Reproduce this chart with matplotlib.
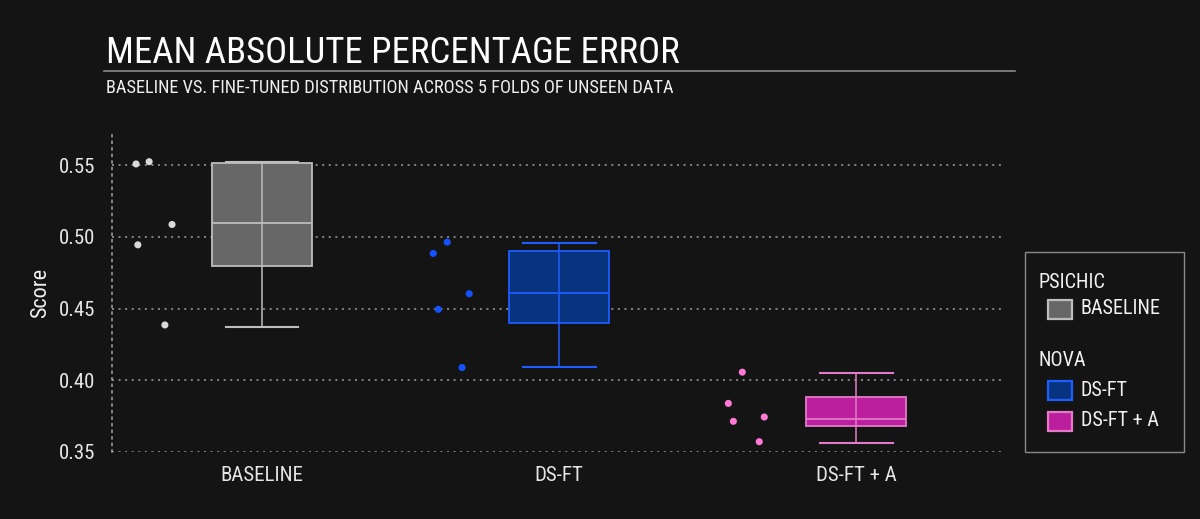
import matplotlib
matplotlib.use("Agg")
import matplotlib.pyplot as plt
from matplotlib import font_manager
from matplotlib.patches import Rectangle
from matplotlib.lines import Line2D

# ---------------- data ----------------
categories = ["BASELINE", "DS-FT", "DS-FT + A"]
groups = ["PSICHIC", "NOVA", "NOVA"]

# fold scores (points)
scores_baseline = [0.5509, 0.5525, 0.4945, 0.5087, 0.4386]
scores_dsft = [0.4964, 0.4885, 0.4604, 0.4495, 0.4089]
scores_dsfta = [0.4057, 0.3839, 0.3714, 0.3744, 0.3572]

# horizontal jitter of the points (category units)
jitter_baseline = [-0.424, -0.380, -0.418, -0.303, -0.327]
jitter_dsft = [-0.377, -0.424, -0.303, -0.407, -0.327]
jitter_dsfta = [-0.384, -0.431, -0.414, -0.310, -0.327]

# box statistics as drawn
whislo = [0.437, 0.4096, 0.3565]
q1 = [0.480, 0.4398, 0.3679]
med = [0.510, 0.4607, 0.3728]
q3 = [0.5518, 0.4904, 0.3886]
whishi = [0.5525, 0.4955, 0.405]

y_ticks = [0.35, 0.40, 0.45, 0.50, 0.55]
y_tick_labels = ["0.35", "0.40", "0.45", "0.50", "0.55"]

# ---------------- style ----------------
BG = "#141414"
fill_colors = ["#676767", "#08347f", "#bb1f9e"]
edge_colors = ["#bdbdbd", "#1d5cff", "#e27ac8"]
point_colors = ["#d9d9d9", "#1452ff", "#ff7ad4"]

avail = {f.name for f in font_manager.fontManager.ttflist}
family = [f for f in ["Liberation Sans Narrow", "Roboto Condensed", "Roboto", "DejaVu Sans"] if f in avail]
plt.rcParams["font.family"] = family + ["DejaVu Sans"]

fig = plt.figure(figsize=(12, 5.19), dpi=100, facecolor=BG)
ax = fig.add_axes([112 / 1200, 1 - 452 / 519, (1005 - 112) / 1200, (452 - 133) / 519])
ax.set_facecolor(BG)

stats = []
for i, c in enumerate(categories):
    stats.append(dict(label=c, whislo=whislo[i], q1=q1[i], med=med[i], q3=q3[i], whishi=whishi[i], fliers=[]))

positions = list(range(len(categories)))
for i in positions:
    ax.bxp([stats[i]], positions=[i], widths=0.336, capwidths=0.245, patch_artist=True,
           showfliers=False, manage_ticks=False,
           boxprops=dict(facecolor=fill_colors[i], edgecolor=edge_colors[i], linewidth=1.3),
           medianprops=dict(color=edge_colors[i], linewidth=1.3),
           whiskerprops=dict(color=edge_colors[i], linewidth=1.1),
           capprops=dict(color=edge_colors[i], linewidth=1.5))
    # whisker line continues through the box
    ax.vlines(i, q1[i], q3[i], color=edge_colors[i], linewidth=1.1, zorder=3)

all_scores = [scores_baseline, scores_dsft, scores_dsfta]
all_jitter = [jitter_baseline, jitter_dsft, jitter_dsfta]
for i, (sc, jt) in enumerate(zip(all_scores, all_jitter)):
    ax.scatter([i + j for j in jt], sc, s=26, color=point_colors[i], edgecolors="none", zorder=4)

ax.set_xlim(-0.505, 2.5)
ax.set_ylim(0.35, 0.5725)
ax.set_yticks(y_ticks)
ax.set_yticklabels(y_tick_labels)
ax.set_xticks(positions)
ax.set_xticklabels(categories)
ax.tick_params(axis="both", length=0, colors="#e6e6e6", labelsize=15)
ax.tick_params(axis="y", pad=12)
ax.tick_params(axis="x", pad=10)

ax.grid(axis="y", color="#a0a0a0", linestyle=(0, (1.3, 3)), linewidth=1.1)
ax.set_axisbelow(True)
for s in ["top", "right", "bottom"]:
    ax.spines[s].set_visible(False)
ax.spines["left"].set_color("#a0a0a0")
ax.spines["left"].set_linestyle((0, (1.3, 3)))
ax.spines["left"].set_linewidth(1.1)

ax.set_ylabel("Score", color="#f0f0f0", fontsize=16, labelpad=5.5)

# ---------------- titles ----------------
fig.text(106 / 1200, 1 - 63 / 519, "MEAN ABSOLUTE PERCENTAGE ERROR", color="#ffffff",
         fontsize=26.5, ha="left", va="baseline")
fig.add_artist(Line2D([104 / 1200, 1015 / 1200], [1 - 71 / 519, 1 - 71 / 519], color="#8a8a8a", linewidth=1.2))
fig.text(106 / 1200, 1 - 93 / 519, "BASELINE VS. FINE-TUNED DISTRIBUTION ACROSS 5 FOLDS OF UNSEEN DATA",
         color="#eeeeee", fontsize=13.2, ha="left", va="baseline")

# ---------------- legend ----------------
def fx(px):
    return px / 1200

def fy(py):
    return 1 - py / 519

fig.add_artist(Rectangle((fx(1024.5), fy(451.5)), fx(1184) - fx(1024.5), fy(251.5) - fy(451.5),
                         facecolor=BG, edgecolor="#8a8a8a", linewidth=1.0, transform=fig.transFigure))
fig.text(fx(1038), fy(288), groups[0], color="#f2f2f2", fontsize=14.5, ha="left", va="baseline")
fig.text(fx(1038), fy(366), groups[1], color="#f2f2f2", fontsize=14.5, ha="left", va="baseline")
swatch_y = [309, 390, 421]
for i, c in enumerate(categories):
    yc = swatch_y[i]
    fig.add_artist(Rectangle((fx(1047.5), fy(yc + 9.5)), fx(1072) - fx(1047.5), fy(yc - 9.5) - fy(yc + 9.5),
                             facecolor=fill_colors[i], edgecolor=edge_colors[i], linewidth=1.6,
                             transform=fig.transFigure))
    fig.text(fx(1081), fy(yc), c, color="#f2f2f2", fontsize=14.5, ha="left", va="center")

fig.savefig("out.png", dpi=100, facecolor=BG)
